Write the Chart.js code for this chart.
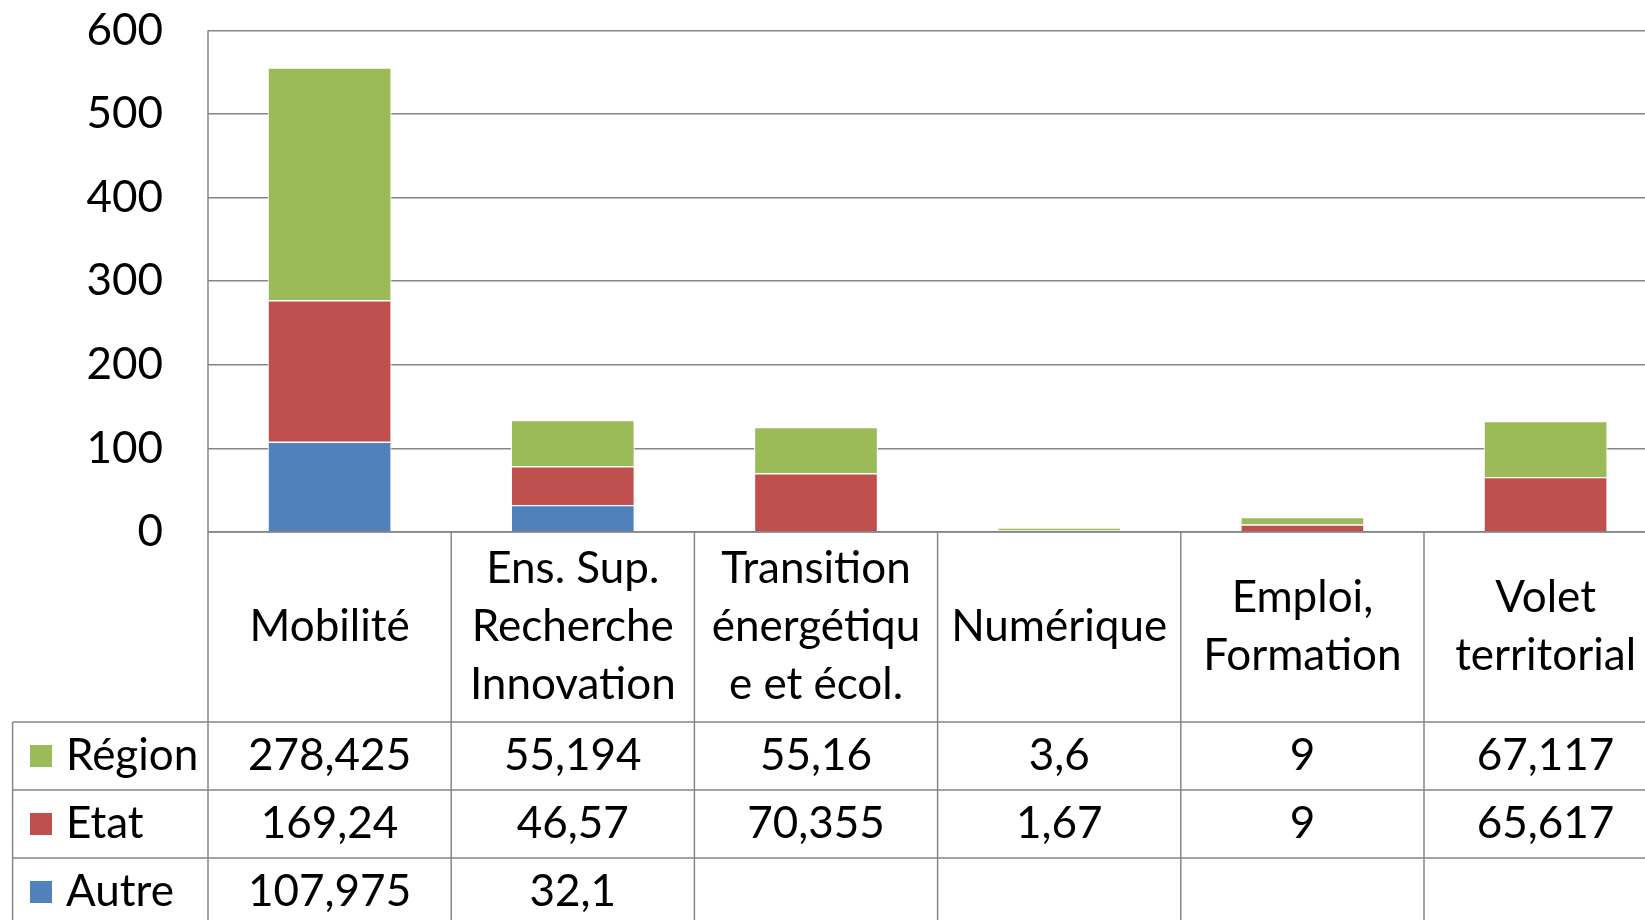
<!DOCTYPE html>
<html><head><meta charset="utf-8">
<script src="https://cdn.jsdelivr.net/npm/chart.js@4.4.1/dist/chart.umd.min.js"></script>
<style>
html,body{margin:0;padding:0;overflow:hidden;background:#fff;}
#wrap{width:1680px;height:920px;position:relative;}
</style></head><body>
<div id="wrap"><canvas id="c"></canvas></div>
<script>
const categories = [["Mobilité"],["Ens. Sup.","Recherche","Innovation"],["Transition","énergétiqu","e et écol."],["Numérique"],["Emploi,","Formation"],["Volet","territorial"]];
const regionValues = [278.425, 55.194, 55.16, 3.6, 9, 67.117];
const etatValues = [169.24, 46.57, 70.355, 1.67, 9, 65.617];
const autreValues = [107.975, 32.1, null, null, null, null];
const yTicks = [0, 100, 200, 300, 400, 500, 600];
const seriesNames = ["Région", "Etat", "Autre"];
const seriesColors = ["#9BBB59", "#C0504D", "#4F81BD"];

const FONT_FAMILY = 'Lato';
const FONT_SIZE = 44;
const GRID = '#868686';

function fmt(v){ return v === null ? '' : String(v).replace('.', ','); }

const tablePlugin = {
  id: 'dataTable',
  afterDraw(chart){
    const ctx = chart.ctx, xs = chart.scales.x, ca = chart.chartArea;
    const n = categories.length;
    const w = xs.getPixelForValue(1) - xs.getPixelForValue(0);
    const top = ca.bottom;
    const hdrH = 190, rowH = 68, tableLeft = 12.6, farRight = chart.width + 10, bottom = chart.height + 10;
    ctx.save();
    ctx.strokeStyle = GRID; ctx.lineWidth = 1.5;
    function line(a,b,c,d){ ctx.beginPath(); ctx.moveTo(a,b); ctx.lineTo(c,d); ctx.stroke(); }
    line(ca.left, top, farRight, top);
    for (let r = 0; r < 3; r++) { const y = top + hdrH + r*rowH; line(tableLeft, y, farRight, y); }
    line(ca.left, ca.top, ca.left, bottom);
    for (let i = 0; i < n; i++) { const xx = xs.getPixelForValue(i) + w/2; line(xx, top, xx, bottom); }
    line(tableLeft, top + hdrH, tableLeft, bottom);

    ctx.fillStyle = '#000';
    ctx.font = FONT_SIZE + 'px ' + FONT_FAMILY;
    ctx.textAlign = 'center'; ctx.textBaseline = 'middle';
    const lh = 58;
    categories.forEach((lines, i) => {
      const cx = xs.getPixelForValue(i);
      const cy = top + hdrH/2;
      lines.forEach((t, k) => ctx.fillText(t, cx, cy + (k - (lines.length-1)/2)*lh));
    });
    const rows = [regionValues, etatValues, autreValues];
    rows.forEach((vals, r) => {
      const cy = top + hdrH + r*rowH + rowH/2;
      ctx.fillStyle = seriesColors[r];
      ctx.fillRect(30, cy - 11, 22, 22);
      ctx.fillStyle = '#000';
      ctx.textAlign = 'left';
      ctx.fillText(seriesNames[r], 66, cy);
      ctx.textAlign = 'center';
      vals.forEach((v, i) => ctx.fillText(fmt(v), xs.getPixelForValue(i), cy));
    });
    ctx.restore();
  }
};

const barCommon = { borderColor: '#ffffff', borderWidth: 1.2, barPercentage: 0.51, categoryPercentage: 1.0 };

new Chart(document.getElementById('c'), {
  type: 'bar',
  data: {
    labels: categories.map(l => l.join(' ')),
    datasets: [
      Object.assign({ label: seriesNames[2], data: autreValues, backgroundColor: seriesColors[2] }, barCommon),
      Object.assign({ label: seriesNames[1], data: etatValues, backgroundColor: seriesColors[1] }, barCommon),
      Object.assign({ label: seriesNames[0], data: regionValues, backgroundColor: seriesColors[0] }, barCommon)
    ]
  },
  options: {
    responsive: true, maintainAspectRatio: false, animation: false,
    layout: { padding: { top: 30.4, right: 12.8, bottom: 388, left: 0 } },
    plugins: { legend: { display: false }, tooltip: { enabled: false } },
    scales: {
      x: { stacked: true, display: false },
      y: {
        stacked: true, min: 0, max: 600,
        afterFit(scale){ scale.width = 208; scale.paddingTop = 0; scale.paddingBottom = 0; },
        afterBuildTicks(scale){ scale.ticks = yTicks.map(v => ({ value: v })); },
        border: { display: false },
        grid: { color: GRID, lineWidth: 1.5, drawTicks: false },
        ticks: { color: '#000', padding: 45, font: { family: FONT_FAMILY, size: FONT_SIZE } }
      }
    }
  },
  plugins: [tablePlugin]
});
</script>
</body></html>
